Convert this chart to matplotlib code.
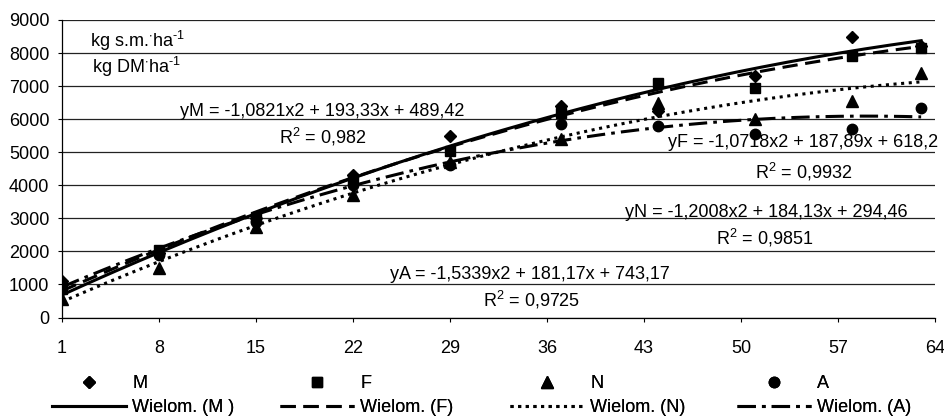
import numpy as np
import matplotlib
matplotlib.use("Agg")
import matplotlib.pyplot as plt

plt.rcParams["font.family"] = ["Liberation Sans", "DejaVu Sans"]
plt.rcParams["mathtext.fontset"] = "custom"
plt.rcParams["mathtext.rm"] = "Liberation Sans"
plt.rcParams["mathtext.it"] = "Liberation Sans:italic"
plt.rcParams["mathtext.default"] = "regular"

# days after start of vegetation
days = [1, 8, 15, 22, 29, 37, 44, 51, 58, 63]
# yields, kg DM per ha
yield_M = [1100, 1950, 3000, 4300, 5500, 6400, 6250, 7300, 8500, 8200]
yield_F = [850, 2050, 3050, 4200, 5050, 6200, 7100, 6950, 7900, 8150]
yield_N = [550, 1500, 2750, 3700, 4700, 5400, 6500, 6000, 6550, 7400]
yield_A = [1000, 1900, 2900, 4000, 4600, 5850, 5800, 5550, 5700, 6350]

# second-order trendline coefficients printed on the chart
coef_M = [-1.0821, 193.33, 489.42]
coef_F = [-1.0718, 187.89, 618.2]
coef_N = [-1.2008, 184.13, 294.46]
coef_A = [-1.5339, 181.17, 743.17]

eq_M = "yM = -1,0821x2 + 193,33x + 489,42"
eq_F = "yF = -1,0718x2 + 187,89x + 618,2"
eq_N = "yN = -1,2008x2 + 184,13x + 294,46"
eq_A = "yA = -1,5339x2 + 181,17x + 743,17"
r2_M = "R$^2$ = 0,982"
r2_F = "R$^2$ = 0,9932"
r2_N = "R$^2$ = 0,9851"
r2_A = "R$^2$ = 0,9725"

xticks = [1, 8, 15, 22, 29, 36, 43, 50, 57, 64]
yticks = list(range(0, 9001, 1000))

FS = 13

fig = plt.figure(figsize=(9.45, 4.19), dpi=100)
ax = fig.add_axes([62 / 945, 1 - 317.5 / 419, (935 - 62) / 945, (317.5 - 20) / 419])

xs = np.linspace(days[0], days[-1], 200)
ms = dict(color="black", linestyle="none")
pM, = ax.plot(days, yield_M, marker="D", markersize=6.5, label="M", **ms)
pF, = ax.plot(days, yield_F, marker="s", markersize=7, label="F", **ms)
pN, = ax.plot(days, yield_N, marker="^", markersize=8, label="N", **ms)
pA, = ax.plot(days, yield_A, marker="o", markersize=7.5, label="A", **ms)

lM, = ax.plot(xs, np.polyval(coef_M, xs), color="black", lw=2.2, ls="-")
lF, = ax.plot(xs, np.polyval(coef_F, xs), color="black", lw=2.2, ls=(0, (5, 2.5)))
lN, = ax.plot(xs, np.polyval(coef_N, xs), color="black", lw=2.2, ls=(0, (1, 1.5)))
lA, = ax.plot(xs, np.polyval(coef_A, xs), color="black", lw=2.2, ls=(0, (6, 2, 1.2, 2)))

ax.set_xlim(1, 64)
ax.set_ylim(0, 9000)
ax.set_xticks(xticks)
ax.set_yticks(yticks)
ax.tick_params(axis="x", length=3, width=0.8, pad=13, labelsize=FS)
ax.tick_params(axis="y", length=3, width=0.8, pad=6, labelsize=FS)
for s in ["top", "right"]:
    ax.spines[s].set_visible(False)
ax.spines["left"].set_linewidth(0.9)
ax.spines["bottom"].set_linewidth(0.9)
ax.grid(axis="y", color="#222222", lw=0.9)
ax.set_axisbelow(True)

# unit labels
ax.text(3.0, 8370, "kg s.m.$^{\\cdot}$ha$^{\\text{-1}}$", fontsize=FS, ha="left", va="center")
ax.text(3.2, 7580, "kg DM$^{\\cdot}$ha$^{\\text{-1}}$", fontsize=FS, ha="left", va="center")

# trendline equations
ax.text(19.8, 6220, eq_M, fontsize=FS, ha="center", va="center")
ax.text(19.8, 5460, r2_M, fontsize=FS, ha="center", va="center")
ax.text(54.5, 5280, eq_F, fontsize=FS, ha="center", va="center")
ax.text(54.5, 4400, r2_F, fontsize=FS, ha="center", va="center")
ax.text(51.8, 3190, eq_N, fontsize=FS, ha="center", va="center")
ax.text(51.7, 2410, r2_N, fontsize=FS, ha="center", va="center")
ax.text(34.8, 1290, eq_A, fontsize=FS, ha="center", va="center")
ax.text(34.9, 530, r2_A, fontsize=FS, ha="center", va="center")

# legend: one column per variant, marker on top, trendline below
cols = [(pM, lM, "M", "Wielom. (M )", 52),
        (pF, lF, "F", "Wielom. (F)", 280),
        (pN, lN, "N", "Wielom. (N)", 510),
        (pA, lA, "A", "Wielom. (A)", 737)]
for pt, ln, lab, wlab, x0 in cols:
    leg = fig.legend([pt, ln], [lab, wlab], loc="upper left",
                     bbox_to_anchor=(x0 / 945, 1 - 375 / 419),
                     frameon=False, fontsize=FS, handlelength=4.1,
                     handletextpad=0.35, borderpad=0, borderaxespad=0,
                     labelspacing=0.4, numpoints=1)
    fig.add_artist(leg)

fig.savefig("out.png", dpi=100)
